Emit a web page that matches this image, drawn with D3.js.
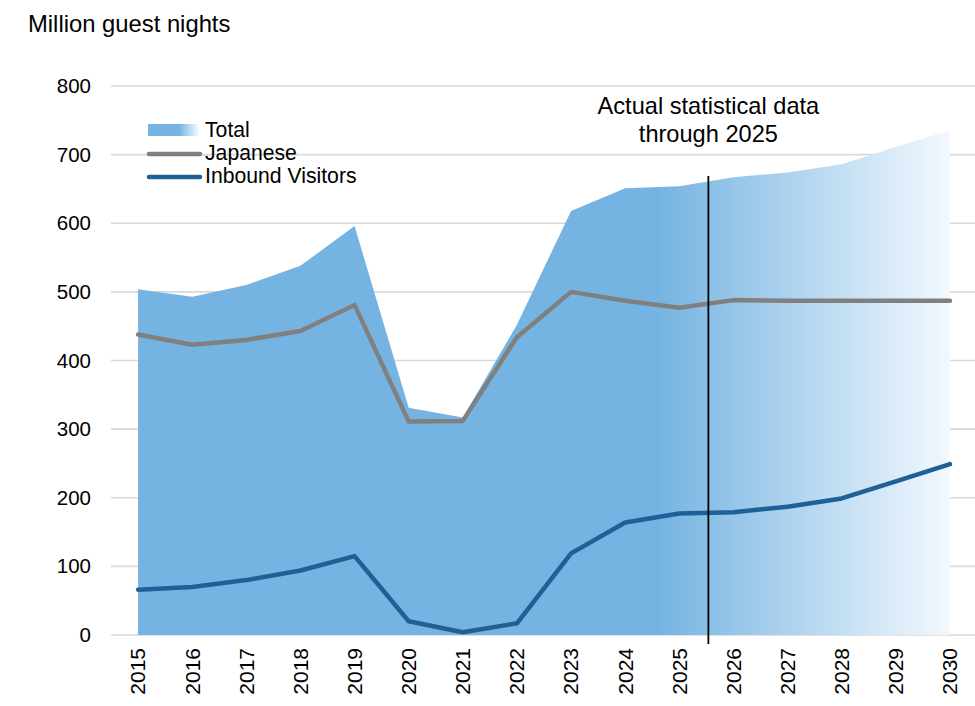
<!DOCTYPE html>
<html>
<head>
<meta charset="utf-8">
<script src="https://cdn.jsdelivr.net/npm/d3@7"></script>
<style>
  html, body { margin: 0; padding: 0; background: #fff; }
  svg { display: block; font-family: "Liberation Sans", Arial, sans-serif; }
</style>
</head>
<body>
<svg id="chart" width="975" height="706"></svg>
<script>
// Guest nights in Japan, millions (actual through 2025, projections after)
const years = ["2015","2016","2017","2018","2019","2020","2021","2022","2023","2024","2025","2026","2027","2028","2029","2030"];
const total = [504, 493, 510, 538, 596, 331, 317, 452, 618, 651, 654, 667, 674, 686, 711, 736];
const japanese = [438, 423, 430, 443, 481, 311, 312, 434, 500, 487, 477, 488, 487, 487, 487, 487];
const inbound = [66, 70, 80, 94, 115, 20, 4, 17, 119, 164, 177, 179, 187, 199, 224, 249];
const yTicks = [0, 100, 200, 300, 400, 500, 600, 700, 800];
const seriesNames = ["Total", "Japanese", "Inbound Visitors"];
const yTitle = "Million guest nights";
const noteLines = ["Actual statistical data", "through 2025"];

const areaColor = "#75b4e2";
const fadeColor = "#f2f8fd";
const japColor = "#808080";
const inbColor = "#1f6196";

const svg = d3.select("#chart");

const x = d3.scalePoint().domain(years).range([111, 977]).padding(0.5);
const y = d3.scaleLinear().domain([0, 800]).range([635, 86]);

const defs = svg.append("defs");
// Fill fades out over the projected years
const grad = defs.append("linearGradient")
  .attr("id", "totalFill")
  .attr("gradientUnits", "userSpaceOnUse")
  .attr("x1", x("2015")).attr("x2", x("2030"))
  .attr("y1", 0).attr("y2", 0);
grad.append("stop").attr("offset", 0).attr("stop-color", areaColor);
grad.append("stop").attr("offset", 0.64).attr("stop-color", areaColor);
grad.append("stop").attr("offset", 1).attr("stop-color", fadeColor);

const lgGrad = defs.append("linearGradient").attr("id", "legendFill");
lgGrad.append("stop").attr("offset", 0).attr("stop-color", areaColor);
lgGrad.append("stop").attr("offset", 0.6).attr("stop-color", areaColor);
lgGrad.append("stop").attr("offset", 1).attr("stop-color", "#ffffff");

// Gridlines
svg.append("g")
  .selectAll("line")
  .data(yTicks)
  .join("line")
  .attr("x1", 111).attr("x2", 975)
  .attr("y1", d => y(d)).attr("y2", d => y(d))
  .attr("stroke", "#d9d9d9")
  .attr("stroke-width", 1.6);

// Y axis labels
const yAxis = d3.axisLeft(y).tickValues(yTicks).tickSize(0).tickPadding(0);
svg.append("g")
  .attr("transform", "translate(91,0)")
  .call(yAxis)
  .call(g => g.select(".domain").remove())
  .selectAll("text")
  .attr("font-size", "20.5px")
  .attr("fill", "#000")
  .attr("font-family", "Liberation Sans, Arial, sans-serif");

// Total area
const area = d3.area()
  .x((d, i) => x(years[i]))
  .y0(y(0))
  .y1(d => y(d));
svg.append("path")
  .datum(total)
  .attr("d", area)
  .attr("fill", "url(#totalFill)");

// Lines
const line = d3.line()
  .x((d, i) => x(years[i]))
  .y(d => y(d));
svg.append("path")
  .datum(japanese)
  .attr("d", line)
  .attr("fill", "none")
  .attr("stroke", japColor)
  .attr("stroke-width", 4.5)
  .attr("stroke-linejoin", "round")
  .attr("stroke-linecap", "round");
svg.append("path")
  .datum(inbound)
  .attr("d", line)
  .attr("fill", "none")
  .attr("stroke", inbColor)
  .attr("stroke-width", 4.5)
  .attr("stroke-linejoin", "round")
  .attr("stroke-linecap", "round");

// X axis labels (rotated)
svg.append("g")
  .selectAll("text")
  .data(years)
  .join("text")
  .attr("transform", d => `translate(${x(d)},648) rotate(-90)`)
  .attr("text-anchor", "end")
  .attr("dy", "0.35em")
  .attr("font-size", "21px")
  .attr("fill", "#000")
  .text(d => d);

// Divider between actual and projected data
const divX = (x("2025") + x("2026")) / 2 + 2;
svg.append("line")
  .attr("x1", divX).attr("x2", divX)
  .attr("y1", 176).attr("y2", 644)
  .attr("stroke", "#000")
  .attr("stroke-width", 1.8);

svg.append("text")
  .attr("x", divX)
  .attr("y", 114)
  .attr("text-anchor", "middle")
  .attr("font-size", "23.6px")
  .attr("fill", "#000")
  .selectAll("tspan")
  .data(noteLines)
  .join("tspan")
  .attr("x", divX)
  .attr("dy", (d, i) => i === 0 ? 0 : 28)
  .text(d => d);

// Axis title
svg.append("text")
  .attr("x", 28).attr("y", 32)
  .attr("font-size", "23.8px")
  .attr("fill", "#000")
  .text(yTitle);

// Legend
const lg = svg.append("g");
lg.append("rect")
  .attr("x", 148).attr("y", 124)
  .attr("width", 52).attr("height", 12)
  .attr("fill", "url(#legendFill)");
lg.append("line")
  .attr("x1", 149).attr("x2", 200)
  .attr("y1", 154).attr("y2", 154)
  .attr("stroke", japColor).attr("stroke-width", 4.5).attr("stroke-linecap", "round");
lg.append("line")
  .attr("x1", 149).attr("x2", 200)
  .attr("y1", 177).attr("y2", 177)
  .attr("stroke", inbColor).attr("stroke-width", 4.5).attr("stroke-linecap", "round");
lg.selectAll("text")
  .data(seriesNames)
  .join("text")
  .attr("x", 205)
  .attr("y", (d, i) => 130 + i * 23)
  .attr("dy", "0.35em")
  .attr("font-size", "21.2px")
  .attr("fill", "#000")
  .text(d => d);
</script>
</body>
</html>
